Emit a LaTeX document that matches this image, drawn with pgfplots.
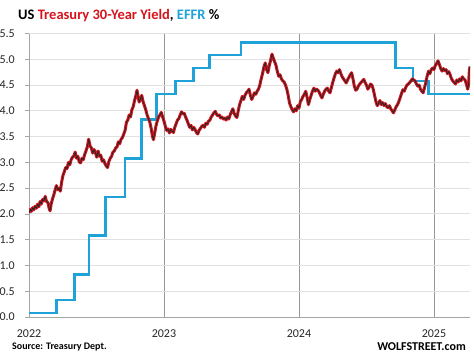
\documentclass[border=0pt]{standalone}
\usepackage{pgfplots}
\usepackage{pgfplotstable}
\pgfplotsset{compat=1.18}
\usepackage{fontspec}
\setmainfont{Carlito}
\definecolor{tred}{RGB}{215,20,30}
\definecolor{effr}{RGB}{30,162,215}
\definecolor{axgray}{RGB}{165,165,165}
\definecolor{vgrid}{RGB}{150,150,150}
\definecolor{hgrid}{RGB}{225,225,225}
\pgfplotstableread{
t v
2022.000 2.02
2022.010 2.09
2022.018 2.05
2022.027 2.12
2022.036 2.08
2022.045 2.15
2022.055 2.11
2022.064 2.19
2022.073 2.14
2022.082 2.24
2022.091 2.19
2022.100 2.28
2022.110 2.25
2022.120 2.34
2022.130 2.24
2022.140 2.22
2022.150 2.10
2022.156 2.06
2022.165 2.20
2022.175 2.30
2022.185 2.38
2022.195 2.48
2022.203 2.55
2022.212 2.47
2022.222 2.50
2022.232 2.44
2022.242 2.62
2022.252 2.75
2022.262 2.82
2022.272 2.90
2022.282 2.88
2022.292 3.00
2022.302 2.95
2022.312 3.05
2022.322 3.10
2022.332 3.12
2022.342 3.20
2022.352 3.08
2022.362 3.12
2022.372 3.01
2022.382 2.99
2022.392 3.08
2022.402 3.05
2022.412 3.15
2022.422 3.22
2022.432 3.30
2022.442 3.45
2022.452 3.32
2022.462 3.28
2022.472 3.18
2022.482 3.25
2022.492 3.19
2022.502 3.10
2022.512 3.22
2022.522 3.12
2022.532 3.14
2022.542 3.02
2022.552 3.05
2022.562 2.98
2022.572 2.93
2022.582 2.90
2022.592 3.02
2022.602 3.08
2022.612 3.12
2022.622 3.20
2022.632 3.22
2022.642 3.28
2022.652 3.30
2022.662 3.40
2022.672 3.36
2022.682 3.45
2022.692 3.48
2022.702 3.55
2022.712 3.62
2022.722 3.78
2022.732 3.82
2022.742 3.92
2022.752 3.88
2022.762 4.02
2022.772 4.08
2022.782 4.20
2022.792 4.30
2022.800 4.40
2022.808 4.28
2022.816 4.17
2022.825 4.22
2022.835 4.30
2022.845 4.18
2022.855 4.10
2022.865 4.02
2022.875 3.92
2022.885 3.85
2022.895 3.78
2022.905 3.66
2022.915 3.50
2022.922 3.44
2022.930 3.55
2022.940 3.70
2022.950 3.80
2022.960 3.88
2022.970 3.92
2022.980 3.97
2022.990 3.88
2023.000 3.80
2023.010 3.70
2023.020 3.62
2023.030 3.65
2023.040 3.57
2023.050 3.64
2023.060 3.60
2023.070 3.58
2023.080 3.68
2023.090 3.75
2023.100 3.82
2023.110 3.85
2023.120 3.92
2023.130 3.98
2023.140 3.94
2023.150 3.95
2023.160 3.88
2023.170 3.82
2023.180 3.75
2023.190 3.68
2023.200 3.72
2023.210 3.63
2023.220 3.68
2023.230 3.64
2023.240 3.58
2023.250 3.55
2023.260 3.62
2023.270 3.66
2023.280 3.70
2023.290 3.72
2023.300 3.68
2023.310 3.76
2023.320 3.74
2023.330 3.80
2023.340 3.82
2023.350 3.88
2023.360 3.92
2023.370 3.96
2023.380 3.99
2023.390 3.93
2023.400 3.90
2023.410 3.92
2023.420 3.86
2023.430 3.88
2023.440 3.84
2023.450 3.86
2023.460 3.82
2023.470 3.88
2023.480 3.84
2023.490 3.92
2023.500 3.98
2023.510 4.04
2023.520 3.95
2023.530 3.90
2023.540 3.87
2023.550 4.00
2023.560 4.12
2023.570 4.20
2023.580 4.28
2023.590 4.22
2023.600 4.30
2023.610 4.35
2023.620 4.38
2023.630 4.42
2023.640 4.30
2023.650 4.22
2023.660 4.28
2023.670 4.35
2023.680 4.32
2023.690 4.38
2023.700 4.42
2023.710 4.50
2023.720 4.62
2023.730 4.72
2023.740 4.85
2023.750 4.93
2023.760 4.80
2023.770 4.74
2023.780 4.88
2023.790 4.98
2023.800 5.10
2023.810 5.02
2023.820 4.95
2023.830 4.88
2023.840 4.76
2023.850 4.67
2023.860 4.70
2023.870 4.62
2023.880 4.58
2023.890 4.56
2023.900 4.50
2023.910 4.42
2023.920 4.30
2023.930 4.15
2023.940 4.08
2023.950 4.02
2023.960 3.98
2023.970 4.04
2023.980 4.00
2023.990 4.10
2024.000 4.05
2024.010 4.18
2024.020 4.22
2024.030 4.28
2024.040 4.32
2024.050 4.38
2024.060 4.26
2024.070 4.12
2024.080 4.22
2024.090 4.30
2024.100 4.38
2024.110 4.44
2024.120 4.38
2024.130 4.42
2024.140 4.40
2024.150 4.36
2024.160 4.30
2024.170 4.25
2024.180 4.32
2024.190 4.38
2024.200 4.42
2024.210 4.44
2024.220 4.38
2024.230 4.35
2024.240 4.45
2024.250 4.55
2024.260 4.64
2024.270 4.72
2024.280 4.77
2024.290 4.74
2024.300 4.80
2024.310 4.72
2024.320 4.66
2024.330 4.62
2024.340 4.58
2024.350 4.54
2024.360 4.60
2024.370 4.65
2024.380 4.70
2024.390 4.74
2024.400 4.62
2024.410 4.48
2024.420 4.40
2024.430 4.42
2024.440 4.48
2024.450 4.52
2024.460 4.55
2024.470 4.58
2024.480 4.61
2024.490 4.55
2024.500 4.50
2024.510 4.42
2024.520 4.46
2024.530 4.52
2024.540 4.50
2024.550 4.42
2024.560 4.30
2024.570 4.18
2024.580 4.10
2024.590 4.15
2024.600 4.20
2024.610 4.12
2024.620 4.16
2024.630 4.10
2024.640 4.14
2024.650 4.08
2024.660 4.06
2024.670 4.10
2024.680 4.04
2024.690 4.00
2024.700 3.96
2024.710 4.02
2024.720 4.08
2024.730 4.12
2024.740 4.18
2024.750 4.26
2024.760 4.34
2024.770 4.41
2024.780 4.38
2024.790 4.45
2024.800 4.50
2024.810 4.52
2024.820 4.55
2024.830 4.58
2024.840 4.62
2024.850 4.60
2024.860 4.58
2024.870 4.52
2024.880 4.48
2024.890 4.50
2024.900 4.42
2024.910 4.38
2024.920 4.35
2024.930 4.45
2024.940 4.55
2024.950 4.68
2024.960 4.77
2024.970 4.72
2024.980 4.80
2024.990 4.83
2025.000 4.80
2025.010 4.88
2025.020 4.92
2025.030 4.97
2025.040 4.90
2025.050 4.82
2025.060 4.77
2025.070 4.82
2025.080 4.78
2025.090 4.80
2025.100 4.72
2025.110 4.76
2025.120 4.70
2025.130 4.62
2025.140 4.58
2025.150 4.55
2025.160 4.52
2025.170 4.60
2025.180 4.56
2025.190 4.62
2025.200 4.58
2025.210 4.66
2025.220 4.62
2025.230 4.60
2025.240 4.52
2025.250 4.42
2025.256 4.50
2025.262 4.78
2025.267 4.86
}\tsy
\pgfplotstableread{
t v
2022.000 0.08
2022.205 0.33
2022.335 0.83
2022.445 1.58
2022.565 2.33
2022.710 3.08
2022.835 3.83
2022.945 4.33
2023.085 4.58
2023.220 4.83
2023.335 5.08
2023.570 5.33
2024.715 4.83
2024.845 4.58
2024.960 4.33
2025.267 4.33
}\effrtab
\begin{document}
\begin{tikzpicture}
\useasboundingbox (0,0) rectangle (474pt,359pt);
\begin{axis}[
  at={(29pt,42pt)}, anchor=south west, scale only axis,
  width=441pt, height=283.5pt,
  xmin=2022, xmax=2025.267, ymin=0, ymax=5.5,
  axis x line*=bottom, axis y line*=left,
  axis line style={draw=axgray, line width=0.9pt, -},
  xtick={2022,2023,2024,2025}, xticklabels={2022,2023,2024,2025},
  ytick={0,0.5,1,1.5,2,2.5,3,3.5,4,4.5,5,5.5},
  y tick label style={/pgf/number format/fixed, /pgf/number format/fixed zerofill, /pgf/number format/precision=1},
  /pgf/number format/assume math mode=true,
  ticklabel style={font=\fontsize{12}{14}\selectfont, text=black!85, inner sep=0pt},
  yticklabel style={anchor=east, xshift=-10pt},
  xticklabel style={anchor=base, yshift=-16pt},
  xtick style={draw=none},
  ytick style={draw=axgray, line width=0.8pt},
  tick align=outside, major tick length=4pt,
  xmajorgrids, ymajorgrids,
  x grid style={draw=vgrid, line width=0.8pt},
  y grid style={draw=hgrid, line width=0.9pt},
]
\addplot[const plot, draw=effr, line width=2.6pt] table[x=t, y=v] {\effrtab};
\addplot[draw=tred, line width=3pt, line join=round] table[x=t, y=v] {\tsy};
\addplot[draw=black!85, line width=0.8pt, line join=round] table[x=t, y=v] {\tsy};
\end{axis}
\node[anchor=west, inner sep=0pt, font=\bfseries\fontsize{14.5}{17}\selectfont] at (18pt,343pt)
  {US \textcolor{tred}{Treasury 30-Year Yield}, \textcolor{effr}{EFFR} \%};
\node[anchor=west, inner sep=0pt, font=\bfseries\fontsize{10}{12}\selectfont] at (12pt,12pt) {Source: Treasury Dept.};
\node[anchor=east, inner sep=0pt, font=\bfseries\fontsize{12}{14}\selectfont] at (466pt,12pt) {WOLFSTREET.com};
\end{tikzpicture}
\end{document}
